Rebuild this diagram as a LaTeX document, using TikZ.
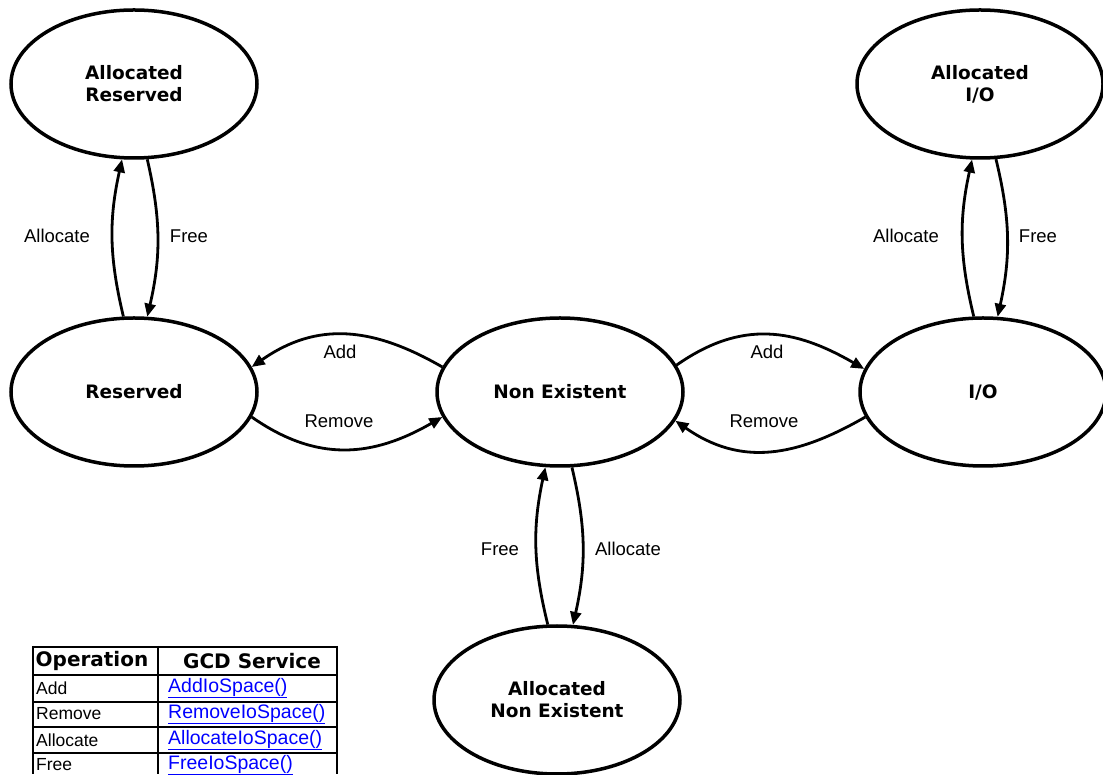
\documentclass[tikz,border=0pt]{standalone}
\usepackage{fontspec}
\setmainfont{Liberation Sans}
\newfontfamily\dv{DejaVu Sans}
\usetikzlibrary{shapes.geometric,arrows.meta}
\begin{document}
\begin{tikzpicture}[x=1pt,y=1pt,
  stnode/.style={draw, ellipse, line width=3.5pt, minimum width=246pt, minimum height=148pt,
    inner sep=0pt, align=center, font=\dv\bfseries\fontsize{18.5}{22}\selectfont},
  conn/.style={line width=2.8pt, -{Triangle[length=13pt,width=11pt]}},
  lbl/.style={inner sep=0pt, font=\fontsize{18.5}{22}\selectfont},
  tline/.style={line width=1.8pt},
  thead/.style={inner sep=0pt, font=\dv\bfseries\fontsize{20}{22}\selectfont},
  tcell/.style={inner sep=0pt, anchor=west, font=\fontsize{17.5}{20}\selectfont},
  tlink/.style={inner sep=0pt, anchor=west, text=blue, font=\fontsize{19.5}{22}\selectfont}
]
\useasboundingbox (0,0) rectangle (1103,774);

% states
\node[stnode] (ar)  at (134,690) {Allocated\\Reserved};
\node[stnode] (r)   at (134,382) {Reserved};
\node[stnode] (ne)  at (560,382) {Non Existent};
\node[stnode] (ane) at (557,74)  {Allocated\\Non Existent};
\node[stnode] (aio) at (980,690) {Allocated\\I/O};
\node[stnode] (io)  at (983,382) {I/O};

% Reserved <-> Allocated Reserved
\draw[conn] (r.98.5) to[bend left=13] (ar.261.5);
\draw[conn] (ar.280) to[bend left=13] (r.80);
\node[lbl] (la1) at (57,538) {Allocate};
\node[lbl] (lf1) at (189,538) {Free};

% I/O <-> Allocated I/O
\draw[conn] (io.97.7) to[bend left=13] (aio.264.6);
\draw[conn] (aio.282.9) to[bend left=13] (io.79.3);
\node[lbl] (la2) at (906,538) {Allocate};
\node[lbl] (lf2) at (1038,538) {Free};

% Non Existent <-> Allocated Non Existent
\draw[conn] (ane.97.9) to[bend left=13] (ne.259.9);
\draw[conn] (ne.279.3) to[bend left=13] (ane.78.2);
\node[lbl] (lf3) at (500,225) {Free};
\node[lbl] (la3) at (628,225) {Allocate};

% Non Existent <-> Reserved
\draw[conn] (ne.168) to[out=150,in=35,distance=80pt] (r.12);
\draw[conn] (r.348) to[out=-35,in=210,distance=80pt] (ne.192);
\node[lbl] (ladd1) at (340,422) {Add};
\node[lbl] (lrem1) at (339,353) {Remove};

% Non Existent <-> I/O
\draw[conn] (ne.13) to[out=35,in=150,distance=80pt] (io.169);
\draw[conn] (io.192) to[out=210,in=-35,distance=80pt] (ne.346);
\node[lbl] (ladd2) at (767,422) {Add};
\node[lbl] (lrem2) at (764,353) {Remove};

% table
\draw[line width=2.4pt] (33,127) -- (337,127);
\draw[line width=2.4pt] (33,99) -- (337,99);
\draw[tline] (33,72) -- (337,72);
\draw[tline] (33,47) -- (337,47);
\draw[tline] (33,21) -- (337,21);
\draw[tline] (33,128) -- (33,0);
\draw[tline] (158,128) -- (158,0);
\draw[tline] (337,128) -- (337,0);
\node[thead] (h1) at (92,113) {Operation};
\node[thead] (h2) at (252,113) {GCD Service};
\node[tcell] (c1) at (36,86) {Add};
\node[tcell] (c2) at (36,60) {Remove};
\node[tcell] (c3) at (36,34) {Allocate};
\node[tcell] (c4) at (36,9) {Free};
\node[tlink] (s1) at (168,86) {\underline{AddIoSpace()}};
\node[tlink] (s2) at (168,60) {\underline{RemoveIoSpace()}};
\node[tlink] (s3) at (168,34) {\underline{AllocateIoSpace()}};
\node[tlink] (s4) at (168,9) {\underline{FreeIoSpace()}};
\end{tikzpicture}
\end{document}
